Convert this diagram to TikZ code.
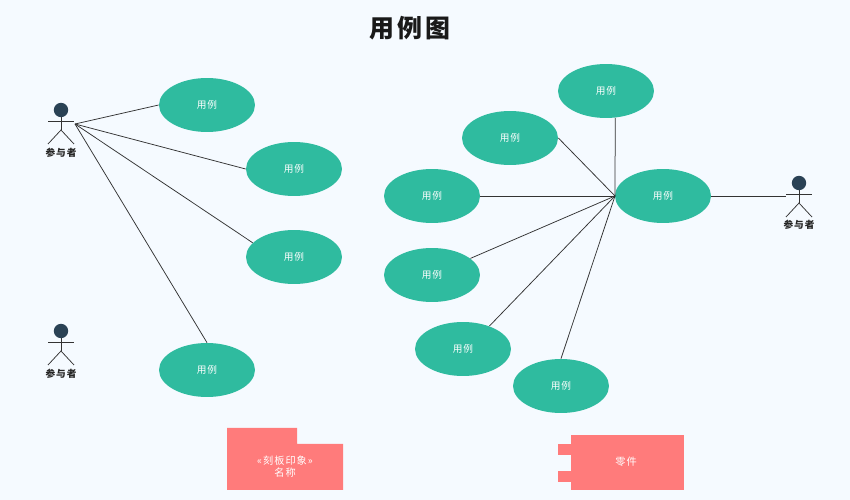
\documentclass[tikz,border=0pt]{standalone}
\usepackage{fontspec}
\newfontfamily\cjk[LetterSpace=10]{Noto Sans CJK SC}
\newfontfamily\cjktitle{Noto Sans CJK SC}
\definecolor{pagebg}{HTML}{F5FAFF}
\definecolor{usecolor}{HTML}{2FBB9F}
\definecolor{partcolor}{HTML}{FF7B7B}
\definecolor{headcolor}{HTML}{2A4255}
\definecolor{inkcolor}{HTML}{333333}
\tikzset{
  usecase/.style={ellipse, fill=usecolor, minimum width=1.92cm, minimum height=1.08cm, inner sep=0pt, text=white, font=\cjk\fontsize{5.5}{6.5}\selectfont},
  actorname/.style={text=black!85, inner sep=0pt, font=\cjk\bfseries\fontsize{5.5}{6.5}\selectfont},
  partname/.style={text=white, inner sep=0pt, align=center, font=\cjk\fontsize{5.8}{6.8}\selectfont},
  wire/.style={inkcolor, line width=.25mm*.6},
}
\usetikzlibrary{shapes.geometric}
% stick figure, #1 = x and #2 = y of the head
\newcommand{\stickman}[2]{
  \draw[wire] (#1, #2) -- (#1, #2+20);
  \draw[wire] (#1-13, #2+11) -- (#1+13, #2+11);
  \draw[wire] (#1-13, #2+34) -- (#1, #2+20) -- (#1+13, #2+34);
  \fill[headcolor] (#1, #2) circle (7.2);
}
\begin{document}
\begin{tikzpicture}[x=.02cm, y=-.02cm]
        \fill[pagebg] (0, 0) rectangle (850, 500);
        \useasboundingbox (0, 0) rectangle (850, 500);
        \node[text=black!90, inner sep=0pt, font=\cjktitle\bfseries\fontsize{14.2}{16}\selectfont] (title) at (410, 28) {用\kern1.6pt 例\kern1.6pt 图};
        % actors
        \stickman{61}{110}
        \stickman{61}{331}
        \stickman{799}{183}
        \node[actorname] (nameA) at (61, 153) {参与者};
        \node[actorname] (nameB) at (61, 374) {参与者};
        \node[actorname] (nameC) at (799, 225) {参与者};
        \coordinate (handA) at (75, 124);
        \coordinate (handC) at (786, 196);
        \coordinate (hub) at (615, 196);
        % use cases, left side
        \foreach \name/\x/\y in {ucA/207/105, ucB/294/169, ucC/294/257, ucD/207/370}
        \node[usecase] (\name) at (\x, \y) {用例};
        % use cases, right side
        \foreach \name/\x/\y in {ucE/606/91, ucF/510/138, ucG/432/196, ucH/432/275, ucI/463/349, ucJ/561/386, ucK/663/196}
        \node[usecase] (\name) at (\x, \y) {用例};
        \draw[wire] (handA) -- (ucA.west);
        \draw[wire] (handA) -- (ucB.west);
        \draw[wire] (handA) -- (ucC.161);
        \draw[wire] (handA) -- (ucD.north);
        \draw[wire] (hub) -- (ucE.-71);
        \draw[wire] (hub) -- (ucF.east);
        \draw[wire] (hub) -- (ucG.east);
        \draw[wire] (hub) -- (ucH);
        \draw[wire] (hub) -- (ucI.41);
        \draw[wire] (hub) -- (ucJ.north);
        \draw[wire] (ucK.east) -- (handC);
        % package
        \fill[partcolor] (227, 428) -- (297, 428) -- (297, 444) -- (343, 444) -- (343, 490) -- (227, 490) -- cycle;
        \node[partname] (package) at (285, 467) {«刻板印象»\\名称};
        % component
        \fill[partcolor] (571, 435) rectangle (684, 490);
        \fill[partcolor] (558, 444) rectangle (571, 455);
        \fill[partcolor] (558, 471) rectangle (571, 482);
        \node[partname] (part) at (626, 462) {零件};
\end{tikzpicture}
\end{document}
